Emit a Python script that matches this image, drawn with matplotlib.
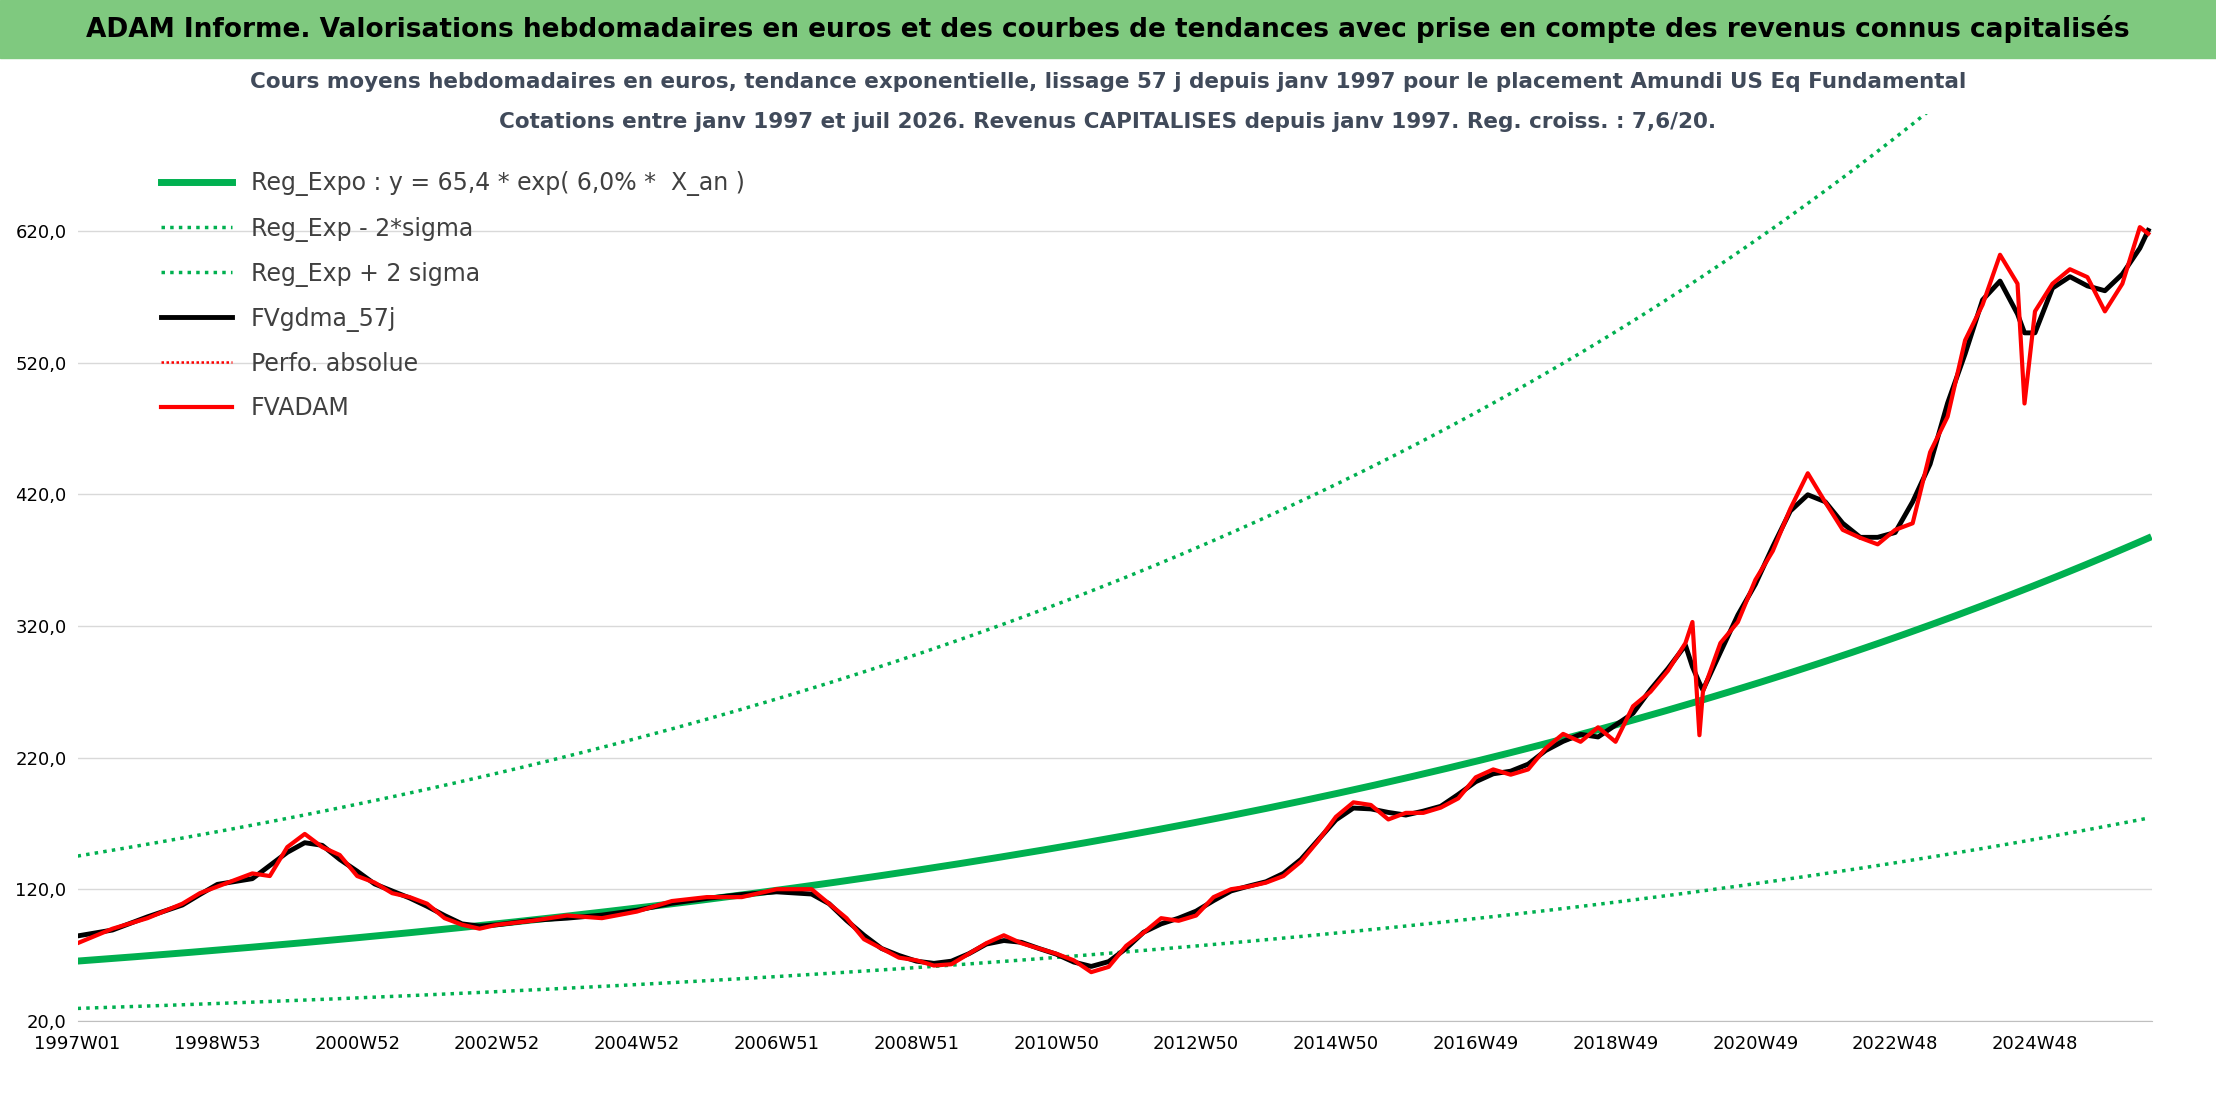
import numpy as np
import matplotlib.pyplot as plt
import pandas as pd

plt.rcParams['font.family'] = ['DejaVu Sans']

# years since janv 1997 (roughly quarterly)
t_obs = [0, 0.5, 1.0, 1.5, 1.75, 2.0, 2.5, 2.75, 3.0, 3.25, 3.5, 3.75, 4.0, 4.25, 4.5, 4.75,
         5.0, 5.25, 5.5, 5.75, 6.0, 6.5, 7.0, 7.5, 8.0, 8.5, 9.0, 9.5, 10.0, 10.5, 10.75,
         11.0, 11.25, 11.5, 11.75, 12.0, 12.25, 12.5, 12.75, 13.0, 13.25, 13.5, 13.75, 14.0,
         14.25, 14.5, 14.75, 15.0, 15.25, 15.5, 15.75, 16.0, 16.25, 16.5, 16.75, 17.0, 17.25,
         17.5, 17.75, 18.0, 18.25, 18.5, 18.75, 19.0, 19.25, 19.5, 19.75, 20.0, 20.25, 20.5,
         20.75, 21.0, 21.25, 21.5, 21.75, 22.0, 22.25, 22.5, 22.75, 23.0, 23.1, 23.2, 23.25,
         23.5, 23.75, 24.0, 24.25, 24.5, 24.75, 25.0, 25.25, 25.5, 25.75, 26.0, 26.25, 26.5,
         26.75, 27.0, 27.25, 27.5, 27.75, 27.85, 28.0, 28.25, 28.5, 28.75, 29.0, 29.25, 29.5, 29.62]
fvadam = [79, 90, 98, 109, 117, 122, 132, 130, 152, 162, 152, 146,
          130, 125, 117, 114, 109, 98, 93, 90, 93, 96, 100, 98, 103, 111, 114, 114, 120, 120, 109,
          98, 82, 75, 68, 66, 62, 63, 71, 79, 85, 79, 75, 71,
          66, 57, 61, 77, 87, 98, 96, 100, 114, 120, 122, 125, 130,
          141, 157, 175, 186, 184, 173, 178, 178, 182, 189, 205, 211, 207,
          211, 227, 238, 232, 243, 232, 259, 270, 286, 307, 323, 237, 270,
          307, 323, 355, 377, 409, 436, 414, 393, 387, 382, 393, 398, 452,
          479, 537, 564, 602, 580, 489, 559, 580, 591, 585, 559, 580, 623, 618]

a_reg, b_reg = 65.4, 0.060
k_low, k_high = 0.45, 2.22

tick_labels = ['1997W01', '1998W53', '2000W52', '2002W52', '2004W52', '2006W51', '2008W51',
               '2010W50', '2012W50', '2014W50', '2016W49', '2018W49', '2020W49', '2022W48', '2024W48']

t_obs = np.array(t_obs)
fvadam = np.array(fvadam, dtype=float)
smooth = pd.Series(fvadam).rolling(3, center=True, min_periods=1).mean().values
t = np.linspace(0, t_obs[-1], 400)
reg = a_reg * np.exp(b_reg * t)

fig = plt.figure(figsize=(22.16, 11.06), dpi=100)
fig.patches.append(plt.Rectangle((0, 0.948), 1, 0.052, transform=fig.transFigure,
                                 color='#7fc97f', zorder=0))
fig.text(0.5, 0.974, "ADAM Informe. Valorisations hebdomadaires en euros et des courbes de tendances avec prise en compte des revenus connus capitalisés",
         ha='center', va='center', fontsize=19, fontweight='bold')
fig.text(0.5, 0.926, "Cours moyens hebdomadaires en euros, tendance exponentielle, lissage 57 j depuis janv 1997 pour le placement Amundi US Eq Fundamental",
         ha='center', va='center', fontsize=15.5, fontweight='bold', color='#404a5a')
fig.text(0.5, 0.89, "Cotations entre janv 1997 et juil 2026. Revenus CAPITALISES depuis janv 1997. Reg. croiss. : 7,6/20.",
         ha='center', va='center', fontsize=15.5, fontweight='bold', color='#404a5a')

ax = fig.add_axes([0.035, 0.077, 0.936, 0.82])
ax.plot(t, reg, color='#00b050', lw=5, label='Reg_Expo : y = 65,4 * exp( 6,0% *  X_an )')
ax.plot(t, reg * k_low, color='#00b050', lw=2.5, ls=(0, (1, 1.5)), label='Reg_Exp - 2*sigma')
ax.plot(t, reg * k_high, color='#00b050', lw=2.5, ls=(0, (1, 1.5)), label='Reg_Exp + 2 sigma')
ax.plot(t_obs, smooth, color='black', lw=3.5, label='FVgdma_57j')
ax.plot([], [], color='red', lw=1.8, ls=(0, (1, 1)), label='Perfo. absolue')
ax.plot(t_obs, fvadam, color='red', lw=3, label='FVADAM')

ax.set_xlim(0, 29.67)
ax.set_ylim(20, 709)
ax.set_yticks(np.arange(20, 700, 100))
ax.set_yticklabels([f"{v:.1f}".replace('.', ',') for v in np.arange(20, 700, 100)], fontsize=13)
ax.set_xticks(np.arange(len(tick_labels)) * 2.0)
ax.set_xticklabels(tick_labels, fontsize=13)
ax.grid(axis='y', color='#d9d9d9', lw=1)
for s in ['top', 'right', 'left']:
    ax.spines[s].set_visible(False)
ax.spines['bottom'].set_color('#bfbfbf')
ax.tick_params(axis='y', length=0, pad=8)
ax.tick_params(axis='x', length=0, pad=10)
ax.legend(loc='upper left', bbox_to_anchor=(0.03, 0.96), frameon=False, fontsize=17,
          handlelength=3, labelspacing=0.85, labelcolor='#404040')

fig.savefig('out.png')
